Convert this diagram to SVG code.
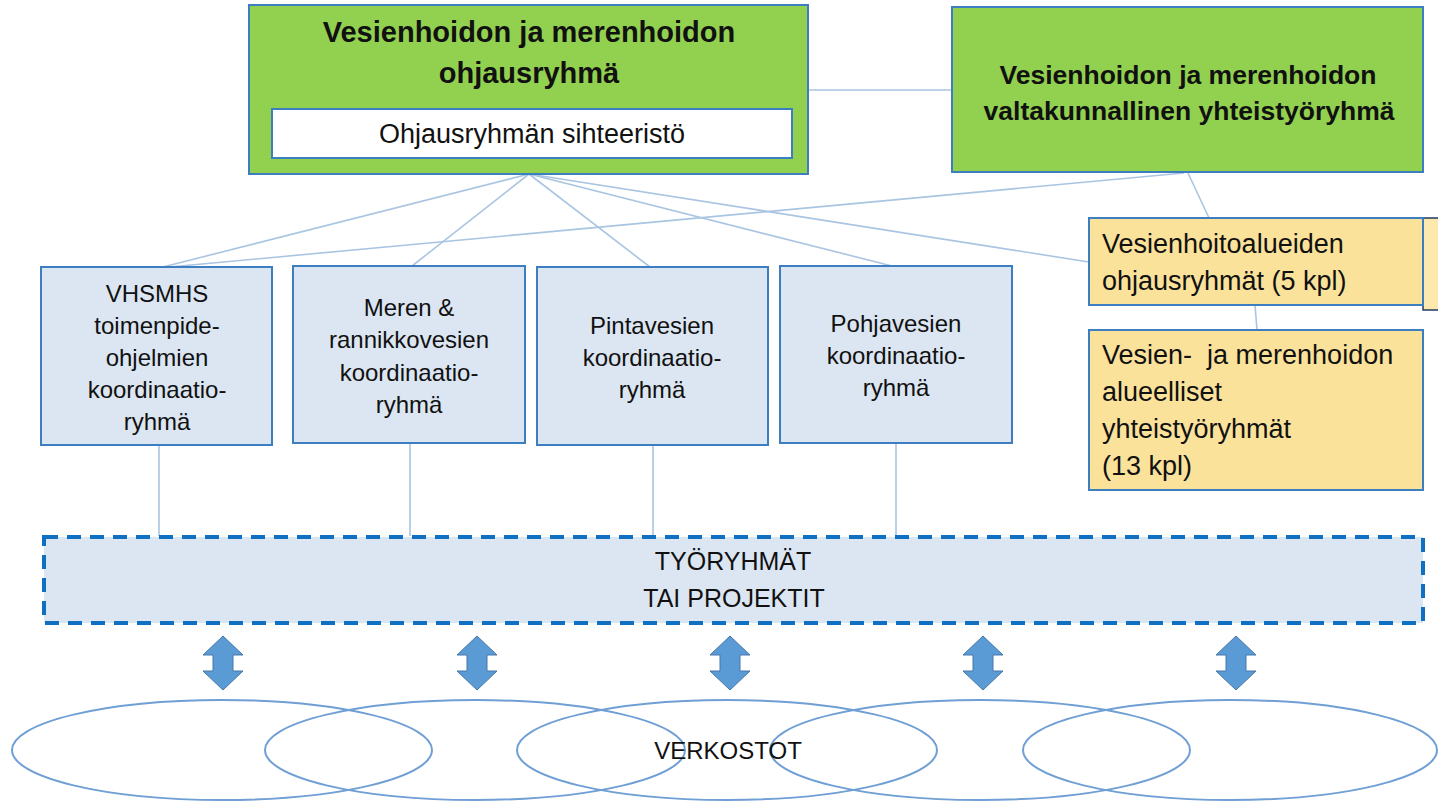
<svg xmlns="http://www.w3.org/2000/svg" width="1438" height="811" viewBox="0 0 1438 811">
<style>
text{font-family:"Liberation Sans",Arial,sans-serif;fill:#111}
.green{fill:#92d050;stroke:#3c7ebf;stroke-width:2}
.blue{fill:#dce6f2;stroke:#3c7ebf;stroke-width:2}
.yel{fill:#fbe29b;stroke:#3c7ebf;stroke-width:2}
.conn{stroke:#a9c5e2;stroke-width:1.6;fill:none}
.bt{font-size:24px;text-anchor:middle}
.yt{font-size:27px}
.ttl{font-weight:bold;text-anchor:middle}
.arr{fill:#5b9bd5;stroke:#4677a8;stroke-width:1}
.ell{fill:none;stroke:#6f9fd4;stroke-width:2}
</style>
<rect width="1438" height="811" fill="#ffffff"/>
<g id="connectors">
<line class="conn" x1="808" y1="90" x2="952" y2="90"/>
<line class="conn" x1="529" y1="174" x2="159" y2="268"/>
<line class="conn" x1="529" y1="174" x2="412" y2="266"/>
<line class="conn" x1="529" y1="174" x2="650" y2="267"/>
<line class="conn" x1="529" y1="174" x2="892" y2="266"/>
<line class="conn" x1="529" y1="174" x2="1089" y2="262"/>
<line class="conn" x1="1184" y1="173" x2="159" y2="268"/>
<line class="conn" x1="1188" y1="173" x2="1209" y2="218"/>
<line class="conn" x1="1255" y1="305" x2="1257" y2="330"/>
<line class="conn" x1="159" y1="445" x2="159" y2="536"/>
<line class="conn" x1="410" y1="443" x2="410" y2="536"/>
<line class="conn" x1="653" y1="445" x2="653" y2="536"/>
<line class="conn" x1="896" y1="443" x2="896" y2="536"/>
</g>
<g id="ohjausryhma">
<rect class="green" x="249" y="5" width="559" height="169"/>
<text class="ttl" x="529" y="42" font-size="29">Vesienhoidon ja merenhoidon</text>
<text class="ttl" x="529" y="83" font-size="29">ohjausryhmä</text>
</g>
<g id="sihteeristo">
<rect x="272" y="109" width="520" height="49" fill="#ffffff" stroke="#3c7ebf" stroke-width="2"/>
<text x="532" y="143" font-size="27" text-anchor="middle">Ohjausryhmän sihteeristö</text>
</g>
<g id="valtakunnallinen">
<rect class="green" x="952" y="7" width="471" height="165"/>
<text class="ttl" x="1188" y="84" font-size="26.5">Vesienhoidon ja merenhoidon</text>
<text class="ttl" x="1189" y="120" font-size="26.5">valtakunnallinen yhteistyöryhmä</text>
</g>
<g id="hidden-box">
<rect x="1423" y="218" width="20" height="92" fill="#fde9ad" stroke="#1f3864" stroke-width="1.5"/>
</g>
<g id="vesienhoitoalueiden">
<rect class="yel" x="1089" y="218" width="334" height="87"/>
<text class="yt" x="1102" y="253">Vesienhoitoalueiden</text>
<text class="yt" x="1102" y="290">ohjausryhmät (5 kpl)</text>
</g>
<g id="alueelliset">
<rect class="yel" x="1089" y="330" width="334" height="160"/>
<text class="yt" x="1102" y="364" xml:space="preserve">Vesien-  ja merenhoidon</text>
<text class="yt" x="1102" y="401">alueelliset</text>
<text class="yt" x="1102" y="438">yhteistyöryhmät</text>
<text class="yt" x="1102" y="475">(13 kpl)</text>
</g>
<g id="vhsmhs">
<rect class="blue" x="41" y="267" width="231" height="178"/>
<text class="bt" x="157" y="302">VHSMHS</text>
<text class="bt" x="157" y="334">toimenpide-</text>
<text class="bt" x="157" y="366">ohjelmien</text>
<text class="bt" x="157" y="398">koordinaatio-</text>
<text class="bt" x="157" y="430">ryhmä</text>
</g>
<g id="meren">
<rect class="blue" x="293" y="266" width="232" height="177"/>
<text class="bt" x="409" y="316">Meren &amp;</text>
<text class="bt" x="409" y="348">rannikkovesien</text>
<text class="bt" x="409" y="381">koordinaatio-</text>
<text class="bt" x="409" y="413">ryhmä</text>
</g>
<g id="pintavesien">
<rect class="blue" x="537" y="267" width="231" height="178"/>
<text class="bt" x="652" y="334">Pintavesien</text>
<text class="bt" x="652" y="366">koordinaatio-</text>
<text class="bt" x="652" y="398">ryhmä</text>
</g>
<g id="pohjavesien">
<rect class="blue" x="780" y="266" width="232" height="177"/>
<text class="bt" x="896" y="332">Pohjavesien</text>
<text class="bt" x="896" y="364">koordinaatio-</text>
<text class="bt" x="896" y="396">ryhmä</text>
</g>
<g id="tyoryhmat">
<rect x="44" y="537" width="1379" height="86" fill="#dce6f2" stroke="#0f6fc0" stroke-width="4" stroke-dasharray="14 9"/>
<text x="733" y="570" font-size="25" text-anchor="middle">TYÖRYHMÄT</text>
<text x="734" y="607" font-size="25" text-anchor="middle">TAI PROJEKTIT</text>
</g>
<g id="arrows">
<path class="arr" d="M223,636 L243,655 L233,655 L233,671 L243,671 L223,690 L203,671 L213,671 L213,655 L203,655 Z"/>
<path class="arr" d="M477,636 L497,655 L487,655 L487,671 L497,671 L477,690 L457,671 L467,671 L467,655 L457,655 Z"/>
<path class="arr" d="M730,636 L750,655 L740,655 L740,671 L750,671 L730,690 L710,671 L720,671 L720,655 L710,655 Z"/>
<path class="arr" d="M983,636 L1003,655 L993,655 L993,671 L1003,671 L983,690 L963,671 L973,671 L973,655 L963,655 Z"/>
<path class="arr" d="M1236,636 L1256,655 L1246,655 L1246,671 L1256,671 L1236,690 L1216,671 L1226,671 L1226,655 L1216,655 Z"/>
</g>
<g id="verkostot">
<ellipse class="ell" cx="222" cy="750" rx="210" ry="50"/>
<ellipse class="ell" cx="475" cy="750" rx="210" ry="50"/>
<ellipse class="ell" cx="727" cy="750" rx="210" ry="50"/>
<ellipse class="ell" cx="980" cy="750" rx="210" ry="50"/>
<ellipse class="ell" cx="1230" cy="750" rx="207" ry="50"/>
<text x="728" y="759" font-size="24" text-anchor="middle">VERKOSTOT</text>
</g>
</svg>
